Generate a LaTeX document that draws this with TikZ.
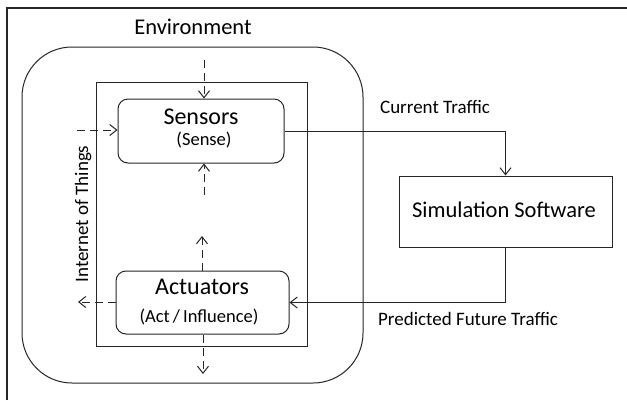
\documentclass[tikz,border=0pt]{standalone}
\usepackage{fontspec}
\setmainfont{Carlito}
\usetikzlibrary{arrows.meta}
\begin{document}
\begin{tikzpicture}[x=1pt,y=-1pt,
  line/.style={draw=black!85,line width=1pt},
  box/.style={line,minimum width=#1,inner sep=0pt},
  tip/.style={-{Straight Barb[length=7pt,width=11pt,line width=1pt]}},
  dashline/.style={line,tip,dash pattern=on 8pt off 5pt},
  big/.style={font=\fontsize{24}{28}\selectfont,anchor=base,inner sep=0pt},
  mid/.style={font=\fontsize{22.5}{27}\selectfont,anchor=base,inner sep=0pt},
  small/.style={font=\fontsize{19}{23}\selectfont,anchor=base,inner sep=0pt},
  tiny/.style={font=\fontsize{18.5}{22}\selectfont,anchor=base,inner sep=0pt}]
  \useasboundingbox (0,0) rectangle (627,400);
  \fill[white] (0,0) rectangle (627,400);

  % page frame
  \draw[line,line width=1.2pt] (7,400) -- (7,8) -- (627,8);

  % environment and the Internet of Things enclosure
  \draw[line,rounded corners=50pt] (22,47) rectangle (363,383);
  \draw[line] (96,82) rectangle (307,346);
  \node[mid] (envtxt) at (193,34) {Environment};
  \node[small,rotate=90] (iot) at (88,214) {Internet of Things};

  % sensors
  \node[box=166pt,minimum height=64pt,rounded corners=10pt] (sens) at (201,131) {};
  \node[big] (senstxt) at (201,124) {Sensors};
  \node[tiny] (sensub) at (204,145) {(Sense)};

  % actuators
  \node[box=173pt,minimum height=63pt,rounded corners=10pt] (act) at (202.5,302.5) {};
  \node[big] (acttxt) at (202,294) {Actuators};
  \node[tiny] (actsub) at (199,322) {(Act\,/\,Influence)};

  % simulation software
  \node[box=213pt,minimum height=71pt] (sim) at (505.5,211.5) {};
  \node[mid] (simtxt) at (504,217) {Simulation Software};

  % traffic flows
  \draw[line,tip] (sens.east) -| (sim.north);
  \draw[line,tip] (sim.south) |- (act.east);
  \node[small] (cur) at (435,113) {Current Traffic};
  \node[small] (pred) at (468,325) {Predicted Future Traffic};

  % sensing inputs
  \coordinate (sa) at (204,60);
  \coordinate (sb) at (204,195);
  \coordinate (sc) at (77,130);
  \draw[dashline] (sa) -- (sa |- sens.north);
  \draw[dashline] (sb) -- (sb |- sens.south);
  \draw[dashline] (sc) -- (sc -| sens.west);

  % actuation outputs
  \coordinate (aa) at (202,236);
  \coordinate (ab) at (203,374);
  \coordinate (ac) at (78,302);
  \draw[dashline] (aa |- act.north) -- (aa);
  \draw[dashline] (ab |- act.south) -- (ab);
  \draw[dashline] (ac -| act.west) -- (ac);
\end{tikzpicture}
\end{document}
